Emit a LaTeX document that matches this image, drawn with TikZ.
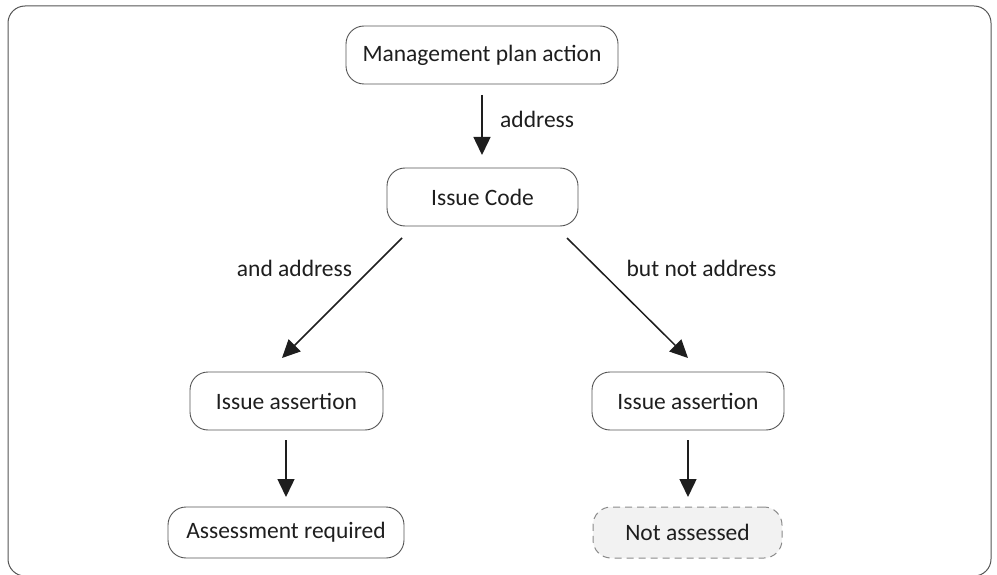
\documentclass[tikz,border=0pt]{standalone}
\usepackage{fontspec}
\setmainfont{Carlito}
\usetikzlibrary{arrows.meta}
\definecolor{boxline}{HTML}{555555}
\definecolor{ink}{HTML}{1E1E1E}
\definecolor{dashline}{HTML}{8A8A8A}
\definecolor{greyfill}{HTML}{F2F2F2}
\begin{document}
\begin{tikzpicture}[x=1pt,y=-1pt,
  every node/.style={font=\fontsize{23.5}{27}\selectfont, text=ink},
  box/.style={draw=boxline, line width=0.9pt, rounded corners=18pt, inner sep=0pt, minimum height=58pt},
  greybox/.style={draw=dashline, dashed, dash pattern=on 7pt off 5pt, fill=greyfill, line width=1pt, rounded corners=18pt, inner sep=0pt, minimum height=51pt},
  link/.style={draw=ink, line width=1.5pt, -{Triangle[length=18pt,width=17pt]}},
  lbl/.style={inner sep=0pt}]
\useasboundingbox (0,0) rectangle (997,575);
\draw[draw=boxline, line width=1pt, rounded corners=17pt] (8,6) rectangle (991,576);
\node[box, minimum width=272pt] (mpa) at (482,55) {Management plan action};
\node[box, minimum width=191pt] (ic) at (482.5,197) {Issue Code};
\node[box, minimum width=193pt] (ial) at (286.5,401) {Issue assertion};
\node[box, minimum width=192pt] (iar) at (688,401) {Issue assertion};
\node[box, minimum width=236pt, minimum height=51pt] (ar) at (286,532.5) {Assessment required};
\node[greybox, minimum width=189pt] (na) at (687.5,532.5) {Not assessed};
\coordinate (a1s) at (482,95); \coordinate (a1e) at (482,155);
\coordinate (a2s) at (402,238); \coordinate (a2e) at (282,358);
\coordinate (a3s) at (567,238); \coordinate (a3e) at (688,358);
\coordinate (a4s) at (286,440); \coordinate (a4e) at (286,497);
\coordinate (a5s) at (688,440); \coordinate (a5e) at (688,497);
\draw[link] (a1s) -- (a1e);
\draw[link] (a2s) -- (a2e);
\draw[link] (a3s) -- (a3e);
\draw[link] (a4s) -- (a4e);
\draw[link] (a5s) -- (a5e);
\node[lbl, anchor=west] (l1) at (500,119) {address};
\node[lbl] (l2) at (294.5,268) {and address};
\node[lbl] (l3) at (701.5,268) {but not address};
\end{tikzpicture}
\end{document}
